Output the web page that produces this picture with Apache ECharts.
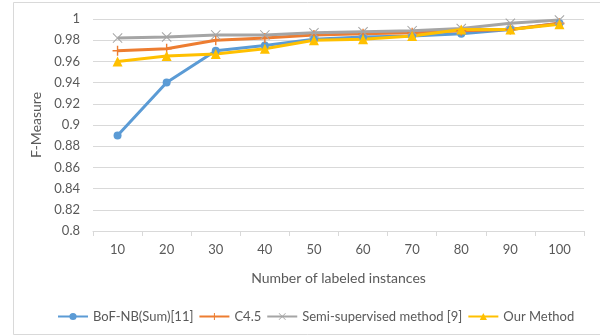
<!DOCTYPE html>
<html>
<head>
<meta charset="utf-8">
<script src="https://cdn.jsdelivr.net/npm/echarts@6/dist/echarts.min.js"></script>
<style>
  html, body { margin: 0; padding: 0; background: #fff; }
  #chart { width: 600px; height: 336px; }
</style>
</head>
<body>
<div id="chart"></div>
<script>
// Number of labeled instances
const categories = ['10', '20', '30', '40', '50', '60', '70', '80', '90', '100'];

// F-Measure per method
const bofNB = [0.890, 0.940, 0.970, 0.975, 0.981, 0.983, 0.984, 0.986, 0.990, 0.996];
const c45 = [0.970, 0.972, 0.980, 0.982, 0.985, 0.986, 0.987, 0.989, 0.990, 0.996];
const semiSupervised = [0.982, 0.983, 0.985, 0.985, 0.987, 0.988, 0.989, 0.991, 0.996, 0.999];
const ourMethod = [0.960, 0.965, 0.967, 0.972, 0.980, 0.981, 0.984, 0.990, 0.990, 0.995];

const seriesNames = ['BoF-NB(Sum)[11]', 'C4.5', 'Semi-supervised method [9]', 'Our Method'];

const FONT = 'Lato, "Open Sans", sans-serif';
const TEXT = '#595959';
const GRID = '#d9d9d9';

// Plus and cross markers as thin filled paths
const PLUS = 'path://M4.3,0H5.7V4.3H10V5.7H5.7V10H4.3V5.7H0V4.3H4.3Z';
const CROSS = 'path://M0.7,0L5,4.3L9.3,0L10,0.7L5.7,5L10,9.3L9.3,10L5,5.7L0.7,10L0,9.3L4.3,5L0,0.7Z';

function lineSeries(name, data, color, symbol, size) {
  return {
    name: name,
    type: 'line',
    data: data,
    symbol: symbol,
    symbolSize: size,
    showAllSymbol: true,
    lineStyle: { color: color, width: 3 },
    itemStyle: { color: color, borderColor: color, borderWidth: 0 },
    emphasis: { disabled: true },
    animation: false
  };
}

const chart = echarts.init(document.getElementById('chart'));
chart.setOption({
  backgroundColor: '#fff',
  animation: false,
  graphic: [{
    type: 'rect',
    shape: { x: 13.5, y: 2.5, width: 600, height: 332 },
    style: { fill: 'none', stroke: GRID, lineWidth: 1 },
    silent: true
  }],
  grid: { left: 93, right: 16, top: 19, bottom: 105 },
  legend: {
    data: seriesNames,
    left: 52,
    width: 546,
    top: 305,
    itemWidth: 30,
    itemHeight: 9,
    itemGap: 5,
    textStyle: { color: TEXT, fontSize: 13, fontFamily: FONT }
  },
  xAxis: {
    type: 'category',
    data: categories,
    boundaryGap: true,
    name: 'Number of labeled instances',
    nameLocation: 'middle',
    nameGap: 40,
    nameTextStyle: { color: TEXT, fontSize: 14, fontFamily: FONT },
    axisLine: { lineStyle: { color: GRID, width: 1 } },
    axisTick: { show: true, length: 5, lineStyle: { color: GRID } },
    axisLabel: { color: TEXT, fontSize: 13, fontFamily: FONT, margin: 12 }
  },
  yAxis: {
    type: 'value',
    min: 0.8,
    max: 1,
    interval: 0.02,
    name: 'F-Measure',
    nameLocation: 'middle',
    nameGap: 48,
    nameTextStyle: { color: TEXT, fontSize: 14, fontFamily: FONT },
    axisLine: { show: false },
    axisTick: { show: false },
    splitLine: { lineStyle: { color: GRID, width: 1 } },
    axisLabel: {
      color: TEXT, fontSize: 13, fontFamily: FONT, margin: 13,
      formatter: function (v) { return String(parseFloat(v.toFixed(2))); }
    }
  },
  series: [
    lineSeries(seriesNames[0], bofNB, '#5B9BD5', 'circle', 8),
    lineSeries(seriesNames[1], c45, '#ED7D31', PLUS, 10),
    lineSeries(seriesNames[2], semiSupervised, '#A5A5A5', CROSS, 10),
    lineSeries(seriesNames[3], ourMethod, '#FFC000', 'triangle', 10)
  ]
});
</script>
</body>
</html>
